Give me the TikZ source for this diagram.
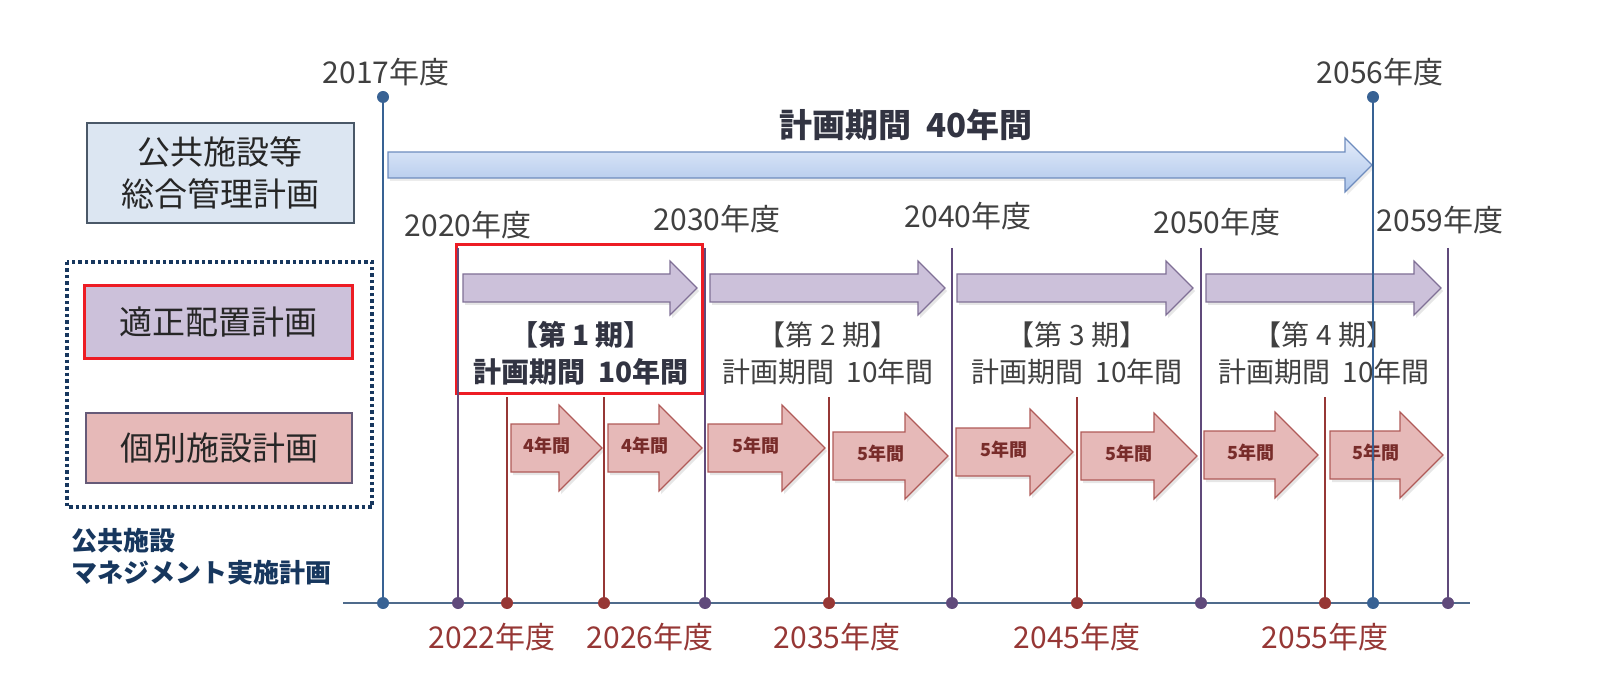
\documentclass[tikz,border=0pt]{standalone}
\usepackage{fontspec}
\setmainfont{Noto Sans CJK JP}
\usetikzlibrary{shadows}
\definecolor{lineblue}{RGB}{56,98,148}
\definecolor{linepurple}{RGB}{96,74,123}
\definecolor{linered}{RGB}{150,55,53}
\definecolor{axisblue}{RGB}{79,107,140}
\definecolor{boxblue}{RGB}{220,230,242}
\definecolor{boxedge}{RGB}{74,88,104}
\definecolor{lilac}{RGB}{204,193,218}
\definecolor{lilacedge}{RGB}{128,112,150}
\definecolor{rose}{RGB}{230,185,184}
\definecolor{roseedge}{RGB}{176,90,88}
\definecolor{markred}{RGB}{237,28,36}
\definecolor{navy}{RGB}{23,55,94}
\definecolor{inkgray}{RGB}{50,52,66}
\definecolor{arrowtop}{RGB}{228,236,250}
\definecolor{arrowbot}{RGB}{172,197,234}
\definecolor{arrowedge}{RGB}{110,140,190}
\newcommand{\blockarrow}[6]{\draw[#1] (#2,#4-#5) -- (#3-#6,#4-#5) -- (#3-#6,#4-#6) -- (#3,#4) -- (#3-#6,#4+#6) -- (#3-#6,#4+#5) -- (#2,#4+#5) -- cycle;}
\newcommand{\gap}{\hspace{0.45em}}
\tikzset{
  yearlbl/.style={inner sep=0pt, text=black!75, font=\fontsize{30}{32}\selectfont},
  botlbl/.style={inner sep=0pt, text=linered, font=\fontsize{30}{32}\selectfont},
  plantext/.style={inner sep=0pt, text=black!85, font=\fontsize{33}{42}\selectfont, align=center},
  periodlbl/.style={inner sep=0pt, text=black!75, font=\fontsize{28}{30}\selectfont},
  firstlbl/.style={inner sep=0pt, text=inkgray, font=\bfseries\fontsize{28}{30}\selectfont},
  spanlbl/.style={inner sep=0pt, text=linered!80!black, font=\bfseries\fontsize{18}{20}\selectfont},
  purplearrow/.style={fill=lilac, draw=lilacedge, line width=1.2pt, drop shadow={opacity=0.2, shadow xshift=2pt, shadow yshift=-3pt}},
  rosearrow/.style={fill=rose, draw=roseedge, line width=1.2pt, drop shadow={opacity=0.2, shadow xshift=2pt, shadow yshift=-3pt}},
  bigarrow/.style={top color=arrowtop, bottom color=arrowbot, draw=arrowedge, line width=1.2pt, drop shadow={opacity=0.15, shadow xshift=2pt, shadow yshift=-3pt}},
  vline/.style={line width=1.8pt, draw=#1},
}
\begin{document}
\begin{tikzpicture}[x=1pt,y=-1pt]
\useasboundingbox (0,0) rectangle (1600,700);

\node[yearlbl] (y2017) at (386,72) {2017年度};
\node[yearlbl] (y2056) at (1380,72) {2056年度};
\node[draw=boxedge, line width=2pt, fill=boxblue, minimum width=267pt, minimum height=100pt, plantext] (sogo) at (220,173) {公共施設等\\総合管理計画};
\node[inner sep=0pt, text=inkgray, font=\bfseries\fontsize{33}{35}\selectfont] (total) at (906,125) {計画期間\gap 40年間};
\blockarrow{bigarrow}{388}{1372}{165}{13}{27}

\node[yearlbl] (y2020) at (468,225) {2020年度};
\node[yearlbl] (y2030) at (717,219) {2030年度};
\node[yearlbl] (y2040) at (968,216) {2040年度};
\node[yearlbl] (y2050) at (1217,222) {2050年度};
\node[yearlbl] (y2059) at (1440,220) {2059年度};

\draw[navy, line width=3.5pt, dash pattern=on 3.5pt off 3pt] (67,262) rectangle (372,507);
\node[draw=markred, line width=3pt, fill=lilac, minimum width=268pt, minimum height=72pt, plantext] (tekisei) at (218,322) {適正配置計画};
\node[draw=lilacedge!80!black, line width=1.5pt, fill=rose, minimum width=266pt, minimum height=70pt, plantext] (kobetsu) at (219,448) {個別施設計画};
\node[anchor=west, inner sep=0pt, text=navy, font=\bfseries\fontsize{26}{32}\selectfont, align=left] (mgmt) at (71,557) {公共施設\\マネジメント実施計画};

\blockarrow{purplearrow}{463}{697}{288}{14}{27}
\blockarrow{purplearrow}{710}{945}{288}{14}{27}
\blockarrow{purplearrow}{957}{1193}{288}{14}{27}
\blockarrow{purplearrow}{1206}{1441}{288}{14}{27}

\node[firstlbl] (p1) at (581,335) {【第 1 期】};
\node[firstlbl] (s1) at (581,372) {計画期間\gap 10年間};
\node[periodlbl] (p2) at (828,335) {【第 2 期】};
\node[periodlbl] (s2) at (828,372) {計画期間\gap 10年間};
\node[periodlbl] (p3) at (1077,335) {【第 3 期】};
\node[periodlbl] (s3) at (1077,372) {計画期間\gap 10年間};
\node[periodlbl] (p4) at (1324,335) {【第 4 期】};
\node[periodlbl] (s4) at (1324,372) {計画期間\gap 10年間};
\draw[markred, line width=3pt] (456,245) rectangle (702,393);

\blockarrow{rosearrow}{511}{602}{448}{24}{43}
\blockarrow{rosearrow}{608}{702}{448}{24}{43}
\blockarrow{rosearrow}{708}{825}{448}{24}{43}
\blockarrow{rosearrow}{833}{948}{456}{24}{43}
\blockarrow{rosearrow}{956}{1073}{452}{24}{43}
\blockarrow{rosearrow}{1081}{1197}{456}{24}{43}
\blockarrow{rosearrow}{1204}{1318}{455}{24}{43}
\blockarrow{rosearrow}{1330}{1443}{455}{24}{43}
\node[spanlbl] (r1) at (547,446) {4年間};
\node[spanlbl] (r2) at (645,446) {4年間};
\node[spanlbl] (r3) at (756,446) {5年間};
\node[spanlbl] (r4) at (881,454) {5年間};
\node[spanlbl] (r5) at (1004,450) {5年間};
\node[spanlbl] (r6) at (1129,454) {5年間};
\node[spanlbl] (r7) at (1251,453) {5年間};
\node[spanlbl] (r8) at (1376,453) {5年間};

\coordinate (axl) at (343,603);
\coordinate (axr) at (1470,603);
\draw[axisblue, line width=2.8pt] (axl) -- (axr);

\coordinate (t2017) at (383,97);   \coordinate (b2017) at (383,603);
\coordinate (t2020) at (458,248);  \coordinate (b2020) at (458,603);
\coordinate (t2022) at (507,397);  \coordinate (b2022) at (507,603);
\coordinate (t2026) at (604,397);  \coordinate (b2026) at (604,603);
\coordinate (t2030) at (705,248);  \coordinate (b2030) at (705,603);
\coordinate (t2035) at (829,397);  \coordinate (b2035) at (829,603);
\coordinate (t2040) at (952,248);  \coordinate (b2040) at (952,603);
\coordinate (t2045) at (1077,397); \coordinate (b2045) at (1077,603);
\coordinate (t2050) at (1201,248); \coordinate (b2050) at (1201,603);
\coordinate (t2055) at (1325,397); \coordinate (b2055) at (1325,603);
\coordinate (t2056) at (1373,97);  \coordinate (b2056) at (1373,603);
\coordinate (t2059) at (1448,248); \coordinate (b2059) at (1448,603);

\draw[vline=lineblue] (t2017) -- (b2017);
\draw[vline=linepurple] (t2020) -- (b2020);
\draw[vline=linered] (t2022) -- (b2022);
\draw[vline=linered] (t2026) -- (b2026);
\draw[vline=linepurple] (t2030) -- (b2030);
\draw[vline=linered] (t2035) -- (b2035);
\draw[vline=linepurple] (t2040) -- (b2040);
\draw[vline=linered] (t2045) -- (b2045);
\draw[vline=linepurple] (t2050) -- (b2050);
\draw[vline=linered] (t2055) -- (b2055);
\draw[vline=lineblue] (t2056) -- (b2056);
\draw[vline=linepurple] (t2059) -- (b2059);

\fill[lineblue] (t2017) circle (6pt) (b2017) circle (6pt) (t2056) circle (6pt) (b2056) circle (6pt);
\fill[linepurple] (b2020) circle (6pt) (b2030) circle (6pt) (b2040) circle (6pt) (b2050) circle (6pt) (b2059) circle (6pt);
\fill[linered] (b2022) circle (6pt) (b2026) circle (6pt) (b2035) circle (6pt) (b2045) circle (6pt) (b2055) circle (6pt);

\node[botlbl] (y2022) at (492,637) {2022年度};
\node[botlbl] (y2026) at (650,637) {2026年度};
\node[botlbl] (y2035) at (837,637) {2035年度};
\node[botlbl] (y2045) at (1077,637) {2045年度};
\node[botlbl] (y2055) at (1325,637) {2055年度};
\end{tikzpicture}
\end{document}
